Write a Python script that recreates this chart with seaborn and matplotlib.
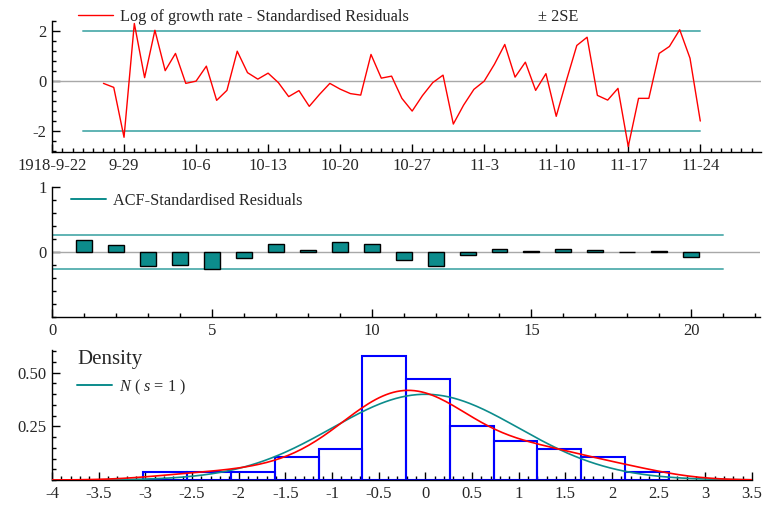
import numpy as np
import pandas as pd
import matplotlib
matplotlib.use("Agg")
import matplotlib.pyplot as plt
import matplotlib.dates as mdates
from matplotlib.ticker import MultipleLocator, FixedLocator, FixedFormatter
from matplotlib.lines import Line2D
import seaborn as sns

# ---------------- data ----------------
resid_start = "1918-09-27"
residuals = [
    -0.08, -0.24, -2.24, 2.32, 0.15, 2.05, 0.43, 1.12, -0.08, 0.01,
    0.61, -0.76, -0.36, 1.21, 0.35, 0.09, 0.33, -0.05, -0.61, -0.37,
    -1.00, -0.52, -0.08, -0.31, -0.49, -0.55, 1.08, 0.13, 0.21, -0.68,
    -1.19, -0.57, -0.05, 0.25, -1.71, -0.95, -0.32, 0.01, 0.69, 1.48,
    0.17, 0.77, -0.36, 0.31, -1.40, 0.05, 1.44, 1.77, -0.56, -0.75,
    -0.28, -2.61, -0.68, -0.68, 1.12, 1.40, 2.07, 0.93, -1.59,
]
week_ticks = ["1918-09-22", "1918-09-29", "1918-10-06", "1918-10-13", "1918-10-20",
              "1918-10-27", "1918-11-03", "1918-11-10", "1918-11-17", "1918-11-24"]
week_labels = ["1918-9-22", "9-29", "10-6", "10-13", "10-20",
               "10-27", "11-3", "11-10", "11-17", "11-24"]
band_start, band_end = "1918-09-25", "1918-11-24"

acf_lags = list(range(1, 21))
acf_values = [0.18, 0.11, -0.21, -0.20, -0.26, -0.09, 0.12, 0.03, 0.16, 0.12,
              -0.13, -0.22, -0.05, 0.04, 0.01, 0.04, 0.03, 0.005, 0.01, -0.07]
acf_band = 0.26

hist_edges = [-3.02, -2.551, -2.082, -1.613, -1.144, -0.675, -0.206,
              0.263, 0.732, 1.201, 1.670, 2.139, 2.608]
hist_counts = [1, 1, 1, 3, 4, 16, 13, 7, 5, 4, 3, 1]

# ---------------- style ----------------
sns.set_style("ticks")
plt.rcParams["font.family"] = ["Liberation Serif", "DejaVu Serif"]
plt.rcParams["mathtext.fontset"] = "custom"
plt.rcParams["mathtext.it"] = "Liberation Serif:italic"
plt.rcParams["mathtext.rm"] = "Liberation Serif"
plt.rcParams["axes.unicode_minus"] = False
plt.rcParams["axes.linewidth"] = 1.0
plt.rcParams["axes.edgecolor"] = "black"

FS = 12
LEG_FS = 11.7
RED = "#ff0000"
BAND = "#5fb3b3"
TEAL = "#0c8c8c"
GREY = "#a8a8a8"

W, H = 763, 507
fig = plt.figure(figsize=(W / 100, H / 100), dpi=100)


def axes_px(left, top, right, bottom):
    return fig.add_axes([left / W, 1 - bottom / H, (right - left) / W, (bottom - top) / H])


def style_axes(ax):
    sns.despine(ax=ax)
    ax.tick_params(which="both", direction="in", labelsize=FS, color="black", width=1)
    ax.tick_params(which="major", length=6, pad=4)
    ax.tick_params(which="minor", length=3)
    ax.set_xlabel("")
    ax.set_ylabel("")
    ax.set_facecolor("white")


def fig_legend(ax, handles, labels, x, y):
    return ax.legend(handles, labels, loc="center left",
                     bbox_to_anchor=(x / W, 1 - y / H), bbox_transform=fig.transFigure,
                     frameon=False, fontsize=LEG_FS, handlelength=2.15, handletextpad=0.45,
                     borderpad=0, borderaxespad=0)


# ---------------- panel 1: standardised residuals ----------------
ax1 = axes_px(52, 21, 761, 152)
dates = pd.date_range(resid_start, periods=len(residuals), freq="D")
df_res = pd.DataFrame({"date": dates, "resid": residuals})
t0 = pd.Timestamp(week_ticks[0])
ax1.axhline(0, color=GREY, lw=1, zorder=1)
band_x = [pd.Timestamp(band_start), pd.Timestamp(band_end)]
for lvl in (2, -2):
    ax1.plot(band_x, [lvl, lvl], color=BAND, lw=1.4, zorder=2)
sns.lineplot(data=df_res, x="date", y="resid", ax=ax1, color=RED, lw=1, zorder=3)
ax1.set_xlim(t0, t0 + pd.Timedelta(days=68.9))
ax1.set_ylim(-2.83, 2.42)
ax1.xaxis.set_major_locator(FixedLocator(mdates.date2num(pd.to_datetime(week_ticks))))
ax1.xaxis.set_major_formatter(FixedFormatter(week_labels))
ax1.xaxis.set_minor_locator(mdates.DayLocator())
ax1.yaxis.set_major_locator(FixedLocator([-2, 0, 2]))
ax1.yaxis.set_minor_locator(MultipleLocator(0.4))
style_axes(ax1)
fig_legend(ax1, [Line2D([], [], color=RED, lw=1)],
           ["Log of growth rate - Standardised Residuals"], 78, 17)
fig.text(538 / W, 1 - 17 / H, "\u00b1 2SE", fontsize=LEG_FS, va="center", ha="left")

# ---------------- panel 2: ACF of residuals ----------------
ax2 = axes_px(52, 187, 760, 317)
df_acf = pd.DataFrame({"lag": acf_lags, "acf": acf_values})
ax2.axhline(0, color=GREY, lw=1, zorder=1)
for lvl in (acf_band, -acf_band):
    ax2.plot([0, 21], [lvl, lvl], color=BAND, lw=1.4, zorder=1)
sns.barplot(data=df_acf, x="lag", y="acf", ax=ax2, native_scale=True, width=0.5,
            color=TEAL, saturation=1, edgecolor="black", linewidth=1, zorder=3)
ax2.set_xlim(0, 22.15)
ax2.set_ylim(-1, 1)
ax2.xaxis.set_major_locator(FixedLocator([0, 5, 10, 15, 20]))
ax2.xaxis.set_major_formatter(FixedFormatter(["0", "5", "10", "15", "20"]))
ax2.xaxis.set_minor_locator(MultipleLocator(1))
ax2.yaxis.set_major_locator(FixedLocator([0, 1]))
ax2.yaxis.set_major_formatter(FixedFormatter(["0", "1"]))
ax2.yaxis.set_minor_locator(MultipleLocator(0.2))
style_axes(ax2)
fig_legend(ax2, [Line2D([], [], color=TEAL, lw=1.4)], ["ACF-Standardised Residuals"], 71, 201)

# ---------------- panel 3: density of residuals ----------------
ax3 = axes_px(52, 350, 752, 480)
centers = [(a + b) / 2 for a, b in zip(hist_edges[:-1], hist_edges[1:])]
sns.histplot(x=centers, weights=hist_counts, bins=hist_edges, stat="density",
             fill=False, color="#0000ff", linewidth=1.5, ax=ax3, zorder=2)
grid = np.linspace(-4, 3.5, 400)
sns.lineplot(x=grid, y=np.exp(-grid ** 2 / 2) / np.sqrt(2 * np.pi), ax=ax3,
             color=TEAL, lw=1.2, zorder=3)
sns.kdeplot(x=residuals, ax=ax3, color=RED, lw=1.2, cut=20, clip=(-4, 3.5),
            bw_adjust=1.08, zorder=4)
ax3.set_xlim(-4, 3.5)
ax3.set_ylim(0, 0.605)
xt = np.arange(-4, 3.51, 0.5)
ax3.xaxis.set_major_locator(FixedLocator(xt))
ax3.xaxis.set_major_formatter(FixedFormatter([f"{v:g}" for v in xt]))
ax3.xaxis.set_minor_locator(MultipleLocator(0.1))
ax3.yaxis.set_major_locator(FixedLocator([0.25, 0.5]))
ax3.yaxis.set_major_formatter(FixedFormatter(["0.25", "0.50"]))
ax3.yaxis.set_minor_locator(MultipleLocator(0.05))
style_axes(ax3)
fig.text(77 / W, 1 - 364 / H, "Density", fontsize=15, va="baseline", ha="left")
fig_legend(ax3, [Line2D([], [], color=TEAL, lw=1.4)],
           [r"$N$ ( $s$ = 1 )"], 77, 387)

fig.savefig("out.png", dpi=100)
